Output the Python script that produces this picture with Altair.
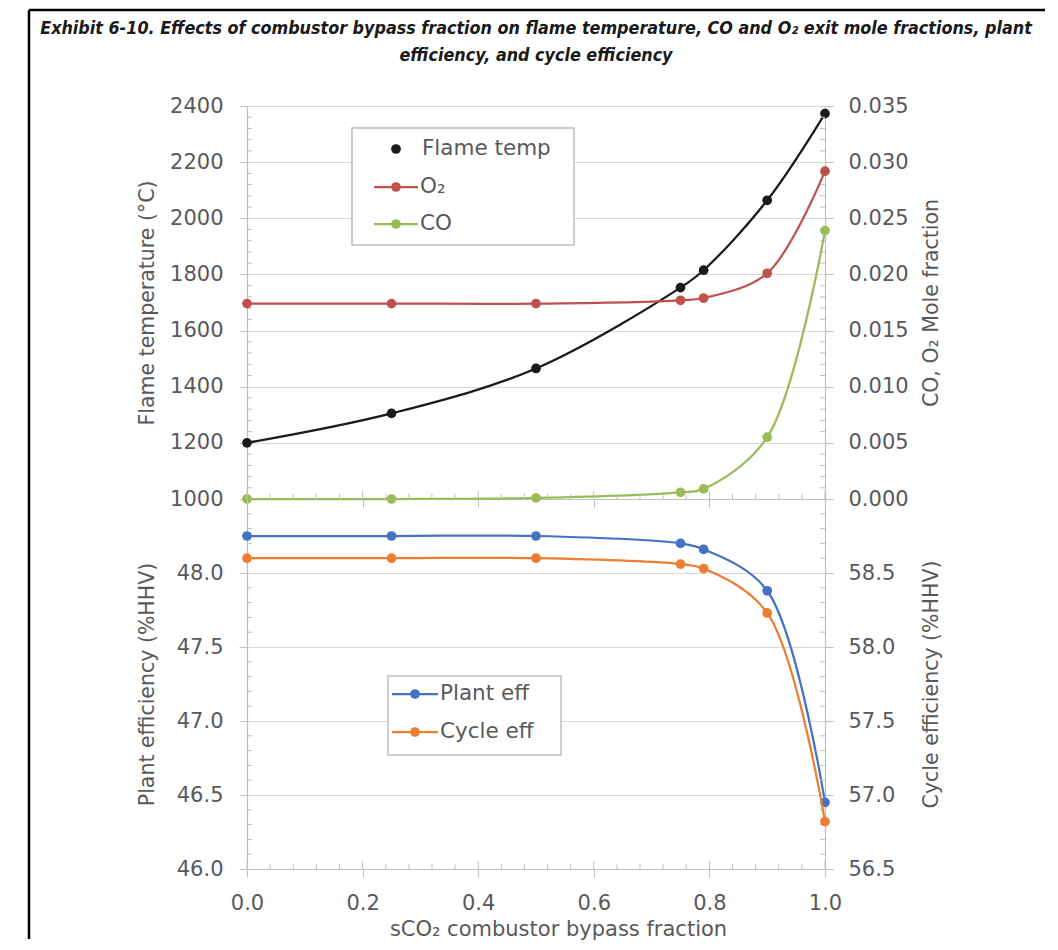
import altair as alt
import pandas as pd

# ---------------- data ----------------
bypass = [0.0, 0.25, 0.5, 0.75, 0.79, 0.9, 1.0]
flame_temp = [1200, 1305, 1465, 1753, 1815, 2064, 2373]
o2_frac = [0.0174, 0.0174, 0.0174, 0.0177, 0.0179, 0.0201, 0.0292]
co_frac = [0.0000, 0.0000, 0.0001, 0.0006, 0.0009, 0.0055, 0.0239]
plant_eff = [48.25, 48.25, 48.25, 48.20, 48.16, 47.88, 46.45]
cycle_eff = [58.60, 58.60, 58.60, 58.56, 58.53, 58.23, 56.82]

gas_names = ["O₂", "CO"]
eff_names = ["Plant eff", "Cycle eff"]

x_major = [0.0, 0.2, 0.4, 0.6, 0.8, 1.0]
x_minor = [round(i * 0.04, 2) for i in range(1, 25) if i % 5 != 0]
tl_major = [1000, 1200, 1400, 1600, 1800, 2000, 2200, 2400]
tl_minor = [1000 + 40 * i for i in range(1, 35) if i % 5 != 0]
tr_major = [0.0, 0.005, 0.010, 0.015, 0.020, 0.025, 0.030, 0.035]
tr_minor = [round(0.001 * i, 3) for i in range(1, 35) if i % 5 != 0]
bl_major = [46.0, 46.5, 47.0, 47.5, 48.0]
bl_minor = [round(46 + 0.1 * i, 1) for i in range(1, 25) if i % 5 != 0]
br_major = [56.5, 57.0, 57.5, 58.0, 58.5]
br_minor = [round(56.5 + 0.1 * i, 1) for i in range(1, 25) if i % 5 != 0]

title_line1 = ("Exhibit 6-10. Effects of combustor bypass fraction on flame temperature, "
               "CO and O₂ exit mole fractions, plant")
title_line2 = "efficiency, and cycle efficiency"

# ---------------- styling ----------------
FONT = "DejaVu Sans"
TFONT = "DejaVu Sans Condensed"
TXT = "#595959"
AX = "#bfbfbf"
GRID = "#d9d9d9"
C_FLAME = "#1a1a1a"
C_O2 = "#c0504d"
C_CO = "#9bbb59"
C_PLANT = "#4472c4"
C_CYCLE = "#ed7d31"
LW = 2.25
MS = 95

W = 578
H_TOP = 393
H_BOT = 370

one = pd.DataFrame({"k": [0]})

df_flame = pd.DataFrame({"x": bypass, "y": flame_temp})
df_gas = pd.DataFrame({"x": bypass + bypass, "y": o2_frac + co_frac,
                       "s": [gas_names[0]] * len(bypass) + [gas_names[1]] * len(bypass)})
df_plant = pd.DataFrame({"x": bypass, "y": plant_eff})
df_cycle = pd.DataFrame({"x": bypass, "y": cycle_eff})

xscale = alt.Scale(domain=[0, 1], nice=False, zero=False)
x_axis_top = alt.Axis(values=x_major, labels=False, title=None, grid=False)
x_axis_bot = alt.Axis(values=x_major, format=".1f", title="sCO₂ combustor bypass fraction",
                      grid=False, labelFlush=False, labelPadding=15,
                      titleX=311, titleY=60, titleAlign="center", titleBaseline="middle",
                      titleFontSize=21)


def X(axis):
    return alt.X("x:Q", scale=xscale, axis=axis)


def x_ticks_inside(h, ticks, size, axis):
    return alt.Chart(pd.DataFrame({"x": ticks})).mark_rule(color=AX, strokeWidth=1).encode(
        x=X(axis), y=alt.value(h - size), y2=alt.value(h))


def minor_y(ticks, scale, axis, right):
    x0, x1 = (W - 5, W) if right else (0, 5)
    return alt.Chart(pd.DataFrame({"y": ticks})).mark_rule(color=AX, strokeWidth=1).encode(
        y=alt.Y("y:Q", scale=scale, axis=axis),
        x=alt.value(x0), x2=alt.value(x1))


def legend_entry(y, xl0, xl1, xd, xt, color, label, line=True):
    parts = []
    if line:
        parts.append(alt.Chart(one).mark_rule(color=color, strokeWidth=LW).encode(
            x=alt.value(xl0), x2=alt.value(xl1), y=alt.value(y)))
    parts.append(alt.Chart(one).mark_point(filled=True, size=MS, opacity=1, color=color).encode(
        x=alt.value(xd), y=alt.value(y)))
    parts.append(alt.Chart(one).mark_text(font=FONT, fontSize=21.5, color=TXT, align="left",
                                          baseline="middle").encode(
        x=alt.value(xt), y=alt.value(y), text=alt.value(label)))
    return parts


def box(x0, x1, y0, y1):
    return alt.Chart(one).mark_rect(fill="white", stroke=AX, strokeWidth=1.5).encode(
        x=alt.value(x0), x2=alt.value(x1), y=alt.value(y0), y2=alt.value(y1))


def left_axis(values, fmt, title):
    return alt.Axis(values=values, format=fmt, title=title, grid=True, orient="left",
                    titleAngle=270, titleX=-100, titleBaseline="middle", titleAlign="center")


def right_axis(values, fmt, title):
    return alt.Axis(values=values, format=fmt, title=title, grid=False, orient="right",
                    titleAngle=270, titleX=106, titleBaseline="middle", titleAlign="center",
                    labelPadding=15)


# ---------------- top panel ----------------
ytl_scale = alt.Scale(domain=[1000, 2400], nice=False, zero=False)
ytl_axis = left_axis(tl_major, "d", "Flame temperature  (°C)")
ytr_scale = alt.Scale(domain=[0, 0.035], nice=False, zero=False)
ytr_axis = right_axis(tr_major, ".3f", "CO, O₂ Mole fraction")

flame_line = alt.Chart(df_flame).mark_line(interpolate="catmull-rom", color=C_FLAME,
                                           strokeWidth=LW).encode(
    x=X(x_axis_top), y=alt.Y("y:Q", scale=ytl_scale, axis=ytl_axis))
flame_pts = alt.Chart(df_flame).mark_point(filled=True, size=MS, opacity=1, color=C_FLAME).encode(
    x=X(x_axis_top), y=alt.Y("y:Q", scale=ytl_scale, axis=ytl_axis))
left_top = alt.layer(minor_y(tl_minor, ytl_scale, ytl_axis, False), flame_line, flame_pts)

gas_color = alt.Color("s:N", scale=alt.Scale(domain=gas_names, range=[C_O2, C_CO]), legend=None)
gas_line = alt.Chart(df_gas).mark_line(interpolate="catmull-rom", strokeWidth=LW).encode(
    x=X(x_axis_top), y=alt.Y("y:Q", scale=ytr_scale, axis=ytr_axis), color=gas_color)
gas_pts = alt.Chart(df_gas).mark_point(filled=True, size=MS, opacity=1).encode(
    x=X(x_axis_top), y=alt.Y("y:Q", scale=ytr_scale, axis=ytr_axis), color=gas_color)
right_top = alt.layer(minor_y(tr_minor, ytr_scale, ytr_axis, True), gas_line, gas_pts)

top_deco = [
    x_ticks_inside(H_TOP, x_minor, 5, x_axis_top),
    x_ticks_inside(H_TOP, x_major, 8, x_axis_top),
    box(105, 327, 22, 139),
]
top_deco += legend_entry(43, 127, 171, 149, 175, C_FLAME, "Flame temp", line=False)
top_deco += legend_entry(81, 127, 171, 149, 173, C_O2, gas_names[0])
top_deco += legend_entry(118, 127, 171, 149, 173, C_CO, gas_names[1])
# title and frame
top_deco += [
    alt.Chart(one).mark_text(font=TFONT, fontSize=17.8, fontWeight="bold", fontStyle="italic",
                             color="#1a1a1a", align="center", baseline="middle").encode(
        x=alt.value(289), y=alt.value(-77), text=alt.value(title_line1)),
    alt.Chart(one).mark_text(font=TFONT, fontSize=17.8, fontWeight="bold", fontStyle="italic",
                             color="#1a1a1a", align="center", baseline="middle").encode(
        x=alt.value(289), y=alt.value(-50), text=alt.value(title_line2)),
    alt.Chart(one).mark_rule(color="black", strokeWidth=2.5).encode(
        x=alt.value(-218), x2=alt.value(798), y=alt.value(-96)),
    alt.Chart(one).mark_rule(color="black", strokeWidth=2.5).encode(
        x=alt.value(-218), y=alt.value(-96), y2=alt.value(H_TOP)),
]

top = alt.layer(left_top, right_top, *top_deco).resolve_scale(y="independent").properties(
    width=W, height=H_TOP)

# ---------------- bottom panel ----------------
ybl_scale = alt.Scale(domain=[46.0, 48.5], nice=False, zero=False)
ybl_axis = left_axis(bl_major, ".1f", "Plant efficiency  (%HHV)")
ybr_scale = alt.Scale(domain=[56.5, 59.0], nice=False, zero=False)
ybr_axis = right_axis(br_major, ".1f", "Cycle efficiency  (%HHV)")

plant_line = alt.Chart(df_plant).mark_line(interpolate="catmull-rom", color=C_PLANT,
                                           strokeWidth=LW).encode(
    x=X(x_axis_bot), y=alt.Y("y:Q", scale=ybl_scale, axis=ybl_axis))
plant_pts = alt.Chart(df_plant).mark_point(filled=True, size=MS, opacity=1, color=C_PLANT).encode(
    x=X(x_axis_bot), y=alt.Y("y:Q", scale=ybl_scale, axis=ybl_axis))
left_bot = alt.layer(minor_y(bl_minor, ybl_scale, ybl_axis, False), plant_line, plant_pts)

cycle_line = alt.Chart(df_cycle).mark_line(interpolate="catmull-rom", color=C_CYCLE,
                                           strokeWidth=LW).encode(
    x=X(x_axis_bot), y=alt.Y("y:Q", scale=ybr_scale, axis=ybr_axis))
cycle_pts = alt.Chart(df_cycle).mark_point(filled=True, size=MS, opacity=1, color=C_CYCLE).encode(
    x=X(x_axis_bot), y=alt.Y("y:Q", scale=ybr_scale, axis=ybr_axis))
right_bot = alt.layer(minor_y(br_minor, ybr_scale, ybr_axis, True), cycle_line, cycle_pts)

bot_deco = [
    x_ticks_inside(H_BOT, x_minor, 5, x_axis_bot),
    x_ticks_inside(H_BOT, x_major, 8, x_axis_bot),
    box(141, 314, 177, 256),
]
bot_deco += legend_entry(195, 145, 191, 168, 193, C_PLANT, eff_names[0])
bot_deco += legend_entry(233, 145, 191, 168, 193, C_CYCLE, eff_names[1])
bot_deco += [
    alt.Chart(one).mark_rule(color="black", strokeWidth=2.5).encode(
        x=alt.value(-218), y=alt.value(0), y2=alt.value(440)),
]

bottom = alt.layer(left_bot, right_bot, *bot_deco).resolve_scale(y="independent").properties(
    width=W, height=H_BOT)

chart = alt.vconcat(top, bottom, spacing=0, bounds="flush").properties(
    padding={"left": 19, "top": 0, "right": 0, "bottom": 0}
).configure_view(stroke=None).configure_axis(
    labelFont=FONT, labelFontSize=21, labelColor=TXT,
    titleFont=FONT, titleFontSize=20.5, titleColor=TXT, titleFontWeight="normal",
    domainColor=AX, domainWidth=1.2, tickColor=AX, tickSize=8, gridColor=GRID, gridWidth=1.2,
    labelPadding=16,
)

chart.save("out.html", embed_options={"renderer": "svg", "actions": False})
